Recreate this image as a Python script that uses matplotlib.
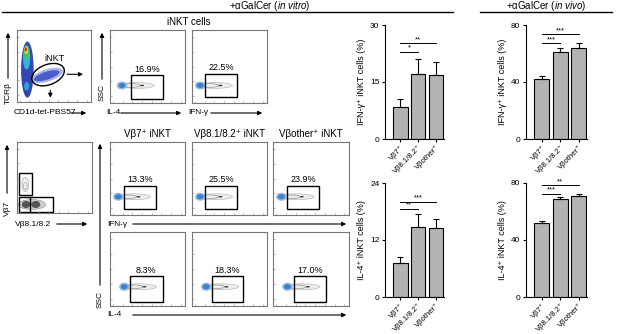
import numpy as np
import matplotlib
matplotlib.use('Agg')
import matplotlib.pyplot as plt
from matplotlib.patches import Ellipse, Rectangle, FancyArrowPatch
from matplotlib.lines import Line2D

plt.rcParams['font.family'] = ['Liberation Sans', 'DejaVu Sans']
plt.rcParams['mathtext.fontset'] = 'custom'
plt.rcParams['mathtext.rm'] = 'Liberation Sans'
plt.rcParams['mathtext.it'] = 'Liberation Sans:italic'

W, H = 617, 334

# bar chart data
groups = ['Vβ7⁺', 'Vβ8.1/8.2⁺', 'Vβother⁺']
ifn_vitro = [8.3, 17.1, 16.9]
ifn_vitro_err = [2.1, 4.0, 3.3]
il4_vitro = [7.2, 14.7, 14.6]
il4_vitro_err = [1.3, 2.8, 1.9]
ifn_vivo = [42.0, 61.3, 64.1]
ifn_vivo_err = [2.3, 2.4, 3.1]
il4_vivo = [52.2, 68.7, 70.6]
il4_vivo_err = [1.4, 1.4, 1.7]

# significance brackets: (from, to, height, label)
sig_ifn_vitro = [(0, 1, 23.0, '*'), (0, 2, 25.2, '**')]
sig_il4_vitro = [(0, 1, 18.6, '**'), (0, 2, 20.1, '***')]
sig_ifn_vivo = [(0, 1, 67.2, '***'), (0, 2, 73.5, '***')]
sig_il4_vivo = [(0, 1, 72.4, '***'), (0, 2, 78.3, '**')]

# gate percentages
pct_total = ['16.9%', '22.5%']
pct_ifn = ['13.3%', '25.5%', '23.9%']
pct_il4 = ['8.3%', '18.3%', '17.0%']

fig = plt.figure(figsize=(W / 100, H / 100), dpi=100)


def px_axes(x0, y0, x1, y1):
    return fig.add_axes([x0 / W, 1 - y1 / H, (x1 - x0) / W, (y1 - y0) / H])


def fx(x):
    return x / W


def fy(y):
    return 1 - y / H


def flow_frame(ax):
    ax.set_xlim(0, 1)
    ax.set_ylim(0, 1)
    for s in ax.spines.values():
        s.set_color('#777777')
        s.set_linewidth(0.8)
    ax.set_xticks(np.linspace(0.04, 0.94, 8))
    ax.set_yticks(np.linspace(0.1, 0.9, 5))
    ax.tick_params(direction='in', length=1.5, width=0.5, color='#999999',
                   labelbottom=False, labelleft=False)


def flow_panel(box, gate, blob, pct):
    ax = px_axes(*box)
    flow_frame(ax)
    bx, by = blob
    ax.add_patch(Ellipse((bx + 0.2, by), 0.46, 0.08, fc='#ececec', ec='#b0b0b0', lw=0.4))
    ax.add_patch(Ellipse((bx + 0.12, by), 0.26, 0.05, fc='none', ec='#808080', lw=0.4))
    ax.add_patch(Ellipse((bx + 0.27, by), 0.05, 0.02, fc='#333333', ec='none'))
    ax.add_patch(Ellipse((bx, by), 0.14, 0.11, fc='#8fbbe8', ec='none'))
    ax.add_patch(Ellipse((bx, by), 0.09, 0.07, fc='#3f7fc8', ec='none'))
    gx0, gx1, gy0, gy1 = gate
    ax.add_patch(Rectangle((gx0, gy0), gx1 - gx0, gy1 - gy0, fill=False, ec='k', lw=1))
    ax.text((gx0 + gx1) / 2, gy1 + 0.02, pct, ha='center', va='bottom', fontsize=6.5)
    return ax


def harrow(xt, x0, x1, y, label):
    fig.text(fx(xt), fy(y), label, ha='left', va='center', fontsize=6)
    fig.add_artist(FancyArrowPatch((fx(x0), fy(y)), (fx(x1), fy(y)),
                                   transform=fig.transFigure, arrowstyle='-|>',
                                   mutation_scale=6, lw=0.8, color='k'))


def varrow(x, yt, y0, y1, label):
    fig.text(fx(x), fy(yt), label, ha='center', va='center', fontsize=6, rotation=90)
    fig.add_artist(FancyArrowPatch((fx(x), fy(y0)), (fx(x), fy(y1)),
                                   transform=fig.transFigure, arrowstyle='-|>',
                                   mutation_scale=6, lw=0.8, color='k'))


def bar_panel(box, vals, errs, top, ylabel, sigs):
    ax = px_axes(*box)
    pos = np.arange(len(vals))
    ax.bar(pos, vals, width=0.82, color='#b3b3b3', edgecolor='k', linewidth=0.8)
    ax.errorbar(pos, vals, yerr=[np.zeros(len(vals)), errs], fmt='none', ecolor='k',
                elinewidth=0.8, capsize=2.5, capthick=0.8)
    ax.set_xlim(-0.85, 2.45)
    ax.set_ylim(0, top)
    ax.set_yticks([0, top / 2, top])
    ax.set_yticklabels(['0', str(int(top / 2)), str(int(top))], fontsize=6)
    ax.spines['top'].set_visible(False)
    ax.spines['right'].set_visible(False)
    ax.set_xticks(pos)
    ax.set_xticklabels(groups, rotation=45, ha='right', rotation_mode='anchor', fontsize=5.5)
    ax.tick_params(axis='y', length=2.5, width=0.8, pad=1.5)
    ax.tick_params(axis='x', length=2, width=0.8, pad=1.5)
    ax.set_ylabel(ylabel, fontsize=6.5, labelpad=3)
    for i, j, h, lab in sigs:
        ax.plot([i, j], [h, h], color='k', lw=0.7, clip_on=False)
        ax.text((i + j) / 2, h, lab, ha='center', va='bottom', fontsize=5.5)
    return ax


# headers
fig.add_artist(Line2D([fx(2), fx(453)], [fy(12), fy(12)], color='k', lw=1))
fig.text(fx(270), fy(6), '+αGalCer ($\\mathit{in\\ vitro}$)', ha='center', va='center', fontsize=7)
fig.add_artist(Line2D([fx(480), fx(612)], [fy(12), fy(12)], color='k', lw=1))
fig.text(fx(546), fy(6), '+αGalCer ($\\mathit{in\\ vivo}$)', ha='center', va='center', fontsize=7)

# TCRb vs CD1d-tet panel
axA = px_axes(17, 30, 91, 102)
flow_frame(axA)
axA.add_patch(Ellipse((0.14, 0.45), 0.17, 0.78, fc='#3346b4', ec='none'))
axA.add_patch(Ellipse((0.41, 0.37), 0.44, 0.17, angle=18, fc='#a9b3e6', ec='none'))
axA.add_patch(Ellipse((0.40, 0.365), 0.36, 0.11, angle=18, fc='#4a5ecb', ec='none'))
axA.add_patch(Ellipse((0.13, 0.62), 0.10, 0.34, fc='#2fb6d6', ec='none'))
axA.add_patch(Ellipse((0.13, 0.68), 0.07, 0.2, fc='#49c05a', ec='none'))
axA.add_patch(Ellipse((0.125, 0.72), 0.05, 0.11, fc='#e3df3a', ec='none'))
axA.add_patch(Ellipse((0.12, 0.73), 0.03, 0.06, fc='#e02a1c', ec='none'))
axA.add_patch(Ellipse((0.13, 0.22), 0.07, 0.12, fc='#2fa0d0', ec='none'))
axA.add_patch(Ellipse((0.42, 0.38), 0.46, 0.28, angle=22, fill=False, ec='k', lw=1))
axA.text(0.5, 0.6, 'iNKT', ha='center', va='center', fontsize=6.5)
axA.annotate('', xy=(0.93, 0.385), xytext=(0.64, 0.385),
             arrowprops=dict(arrowstyle='-|>', mutation_scale=6, lw=0.8, color='k'))
axA.annotate('', xy=(0.45, 0.02), xytext=(0.45, 0.2),
             arrowprops=dict(arrowstyle='-|>', mutation_scale=6, lw=0.8, color='k'))
varrow(8, 93, 81, 30, 'TCRβ')
harrow(14, 68, 89, 113, 'CD1d-tet-PBS57')

# Vb7 vs Vb8.1/8.2 panel
axB = px_axes(17, 142, 92, 213)
flow_frame(axB)
axB.add_patch(Ellipse((0.11, 0.40), 0.09, 0.2, fc='#f2f2f2', ec='#999999', lw=0.4))
axB.add_patch(Ellipse((0.11, 0.38), 0.05, 0.1, fc='none', ec='#999999', lw=0.4))
axB.add_patch(Ellipse((0.2, 0.12), 0.36, 0.14, fc='#cfcfcf', ec='#888888', lw=0.4))
axB.add_patch(Ellipse((0.12, 0.12), 0.11, 0.1, fc='#555555', ec='none'))
axB.add_patch(Ellipse((0.25, 0.12), 0.12, 0.1, fc='#555555', ec='none'))
axB.add_patch(Rectangle((0.02, 0.26), 0.18, 0.30, fill=False, ec='k', lw=1))
axB.add_patch(Rectangle((0.03, 0.02), 0.45, 0.20, fill=False, ec='k', lw=1))
axB.plot([0.175, 0.175], [0.02, 0.22], color='k', lw=1)
varrow(7, 208, 196, 142, 'Vβ7')
harrow(15, 54, 90, 224, 'Vβ8.1/8.2')

# total iNKT cytokine panels
fig.text(fx(189), fy(22), 'iNKT cells', ha='center', va='center', fontsize=7)
flow_panel((110, 30, 185, 103), (0.28, 0.71, 0.06, 0.38), (0.16, 0.24), pct_total[0])
flow_panel((192, 30, 267, 103), (0.17, 0.60, 0.08, 0.40), (0.11, 0.24), pct_total[1])
varrow(102, 93, 82, 30, 'SSC')
harrow(106, 118, 184, 113, 'IL-4')
harrow(188, 208, 265, 113, 'IFN-γ')

# subset panels
subset_titles = ['Vβ7⁺ iNKT', 'Vβ8.1/8.2⁺ iNKT', 'Vβother⁺ iNKT']
cols = [(110, 185), (192, 267), (273, 349)]
ifn_gates = [(0.19, 0.61, 0.08, 0.40), (0.17, 0.60, 0.08, 0.40), (0.19, 0.61, 0.08, 0.40)]
il4_gates = [(0.27, 0.70, 0.06, 0.40), (0.26, 0.68, 0.06, 0.40), (0.27, 0.70, 0.06, 0.40)]
for k, (c0, c1) in enumerate(cols):
    fig.text(fx((c0 + c1) / 2), fy(134), subset_titles[k], ha='center', va='center', fontsize=7)
    flow_panel((c0, 142, c1, 215), ifn_gates[k], (0.11, 0.25), pct_ifn[k])
    flow_panel((c0, 232, c1, 306), il4_gates[k], (0.19, 0.26), pct_il4[k])
fig.add_artist(FancyArrowPatch((fx(100), fy(288)), (fx(100), fy(141)),
                               transform=fig.transFigure, arrowstyle='-|>',
                               mutation_scale=6, lw=0.8, color='k'))
fig.text(fx(100), fy(299), 'SSC', ha='center', va='center', fontsize=6, rotation=90)
harrow(107, 130, 349, 224, 'IFN-γ')
harrow(107, 130, 349, 315, 'IL-4')

# bar charts
bar_panel((385, 25, 444, 139), ifn_vitro, ifn_vitro_err, 30, 'IFN-γ⁺ iNKT cells (%)', sig_ifn_vitro)
bar_panel((385, 183, 444, 297), il4_vitro, il4_vitro_err, 24, 'IL-4⁺ iNKT cells (%)', sig_il4_vitro)
bar_panel((526, 25, 587, 139), ifn_vivo, ifn_vivo_err, 80, 'IFN-γ⁺ iNKT cells (%)', sig_ifn_vivo)
bar_panel((526, 183, 587, 297), il4_vivo, il4_vivo_err, 80, 'IL-4⁺ iNKT cells (%)', sig_il4_vivo)

fig.savefig('out.png', dpi=100)
